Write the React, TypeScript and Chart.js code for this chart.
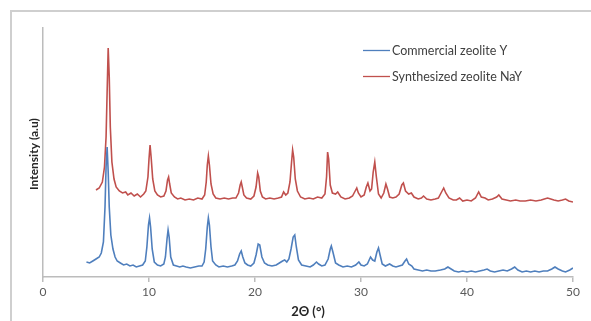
import React, { useEffect, useRef } from "react";
import { Chart, registerables } from "chart.js";

Chart.register(...registerables);

const seriesLabels = ["Commercial zeolite Y", "Synthesized zeolite NaY"];
const seriesColors = ["#4f7fbd", "#c0504d"];
const xTitle = "2Θ (°)";
const yTitle = "Intensity (a.u)";
const xTickValues = [0, 10, 20, 30, 40, 50];

const blueTheta = [
  4.1, 4.4, 4.7, 5.0, 5.3, 5.5, 5.7, 5.85, 5.95, 6.05, 6.15, 6.25, 6.4, 6.6, 6.8, 7.0, 7.3, 7.6, 7.9, 8.2,
  8.5, 8.8, 9.1, 9.4, 9.65, 9.8, 9.95, 10.05, 10.15, 10.3, 10.5, 10.8, 11.1, 11.4, 11.55, 11.7, 11.8, 11.9, 12.05, 12.3,
  12.6, 12.9, 13.2, 13.5, 13.9, 14.3, 14.7, 15.0, 15.2, 15.35, 15.5, 15.6, 15.7, 15.85, 16.0, 16.3, 16.6, 17.0, 17.4, 17.8,
  18.1, 18.35, 18.55, 18.7, 18.85, 19.05, 19.3, 19.6, 19.9, 20.1, 20.3, 20.45, 20.65, 20.9, 21.2, 21.6, 22.0, 22.3, 22.6, 22.8,
  23.0, 23.2, 23.4, 23.6, 23.75, 23.9, 24.1, 24.4, 24.8, 25.2, 25.5, 25.8, 26.0, 26.3, 26.6, 26.9, 27.1, 27.2, 27.35, 27.6,
  27.9, 28.3, 28.7, 29.1, 29.5, 29.8, 30.0, 30.3, 30.6, 30.9, 31.1, 31.3, 31.5, 31.65, 31.8, 32.0, 32.3, 32.7, 33.0, 33.3,
  33.6, 33.9, 34.15, 34.3, 34.5, 34.8, 35.0, 35.4, 35.8, 36.2, 36.6, 37.0, 37.5, 37.9, 38.2, 38.5, 38.8, 39.2, 39.6, 40.0,
  40.4, 40.8, 41.2, 41.6, 41.9, 42.2, 42.6, 43.0, 43.4, 43.8, 44.2, 44.5, 44.8, 45.2, 45.6, 46.0, 46.4, 46.8, 47.2, 47.6,
  48.0, 48.3, 48.6, 49.0, 49.3, 49.7, 50.0,
];
const blueIntensity = [
  15, 14, 16, 18, 20, 24, 35, 70, 110, 130, 105, 70, 42, 28, 20, 16, 14, 12, 13, 11,
  12, 10, 11, 12, 16, 30, 52, 59, 50, 28, 15, 12, 11, 13, 20, 38, 47, 40, 20, 12,
  11, 10, 11, 10, 9, 10, 11, 11, 15, 28, 50, 59, 52, 30, 16, 12, 10, 11, 10, 11,
  12, 16, 23, 26, 20, 14, 12, 11, 14, 22, 33, 32, 20, 14, 12, 11, 12, 14, 16, 17,
  15, 18, 28, 40, 42, 30, 17, 12, 11, 10, 12, 15, 13, 11, 12, 18, 28, 31, 25, 14,
  12, 10, 11, 10, 12, 15, 12, 11, 13, 20, 17, 16, 25, 29, 22, 13, 11, 13, 11, 10,
  11, 12, 16, 18, 13, 11, 8, 7, 6, 7, 6, 6, 7, 8, 10, 8, 6, 5, 6, 5,
  6, 5, 6, 7, 8, 6, 5, 6, 7, 6, 8, 10, 7, 5, 6, 5, 6, 5, 6, 6,
  8, 10, 8, 6, 5, 7, 9,
];

const redTheta = [
  5.0, 5.3, 5.6, 5.8, 5.95, 6.05, 6.15, 6.25, 6.35, 6.5, 6.7, 6.9, 7.2, 7.5, 7.8, 8.0, 8.3, 8.6, 8.9, 9.2,
  9.5, 9.7, 9.9, 10.0, 10.1, 10.2, 10.35, 10.55, 10.8, 11.1, 11.4, 11.6, 11.75, 11.85, 11.95, 12.1, 12.4, 12.7, 13.0, 13.4,
  13.8, 14.2, 14.6, 15.0, 15.25, 15.4, 15.5, 15.6, 15.7, 15.85, 16.05, 16.3, 16.7, 17.1, 17.5, 17.9, 18.2, 18.45, 18.6, 18.7,
  18.8, 18.95, 19.2, 19.6, 19.9, 20.1, 20.25, 20.35, 20.5, 20.7, 21.0, 21.4, 21.8, 22.2, 22.5, 22.7, 22.9, 23.1, 23.3, 23.45,
  23.55, 23.65, 23.8, 24.0, 24.3, 24.7, 25.1, 25.5, 25.9, 26.3, 26.6, 26.75, 26.85, 26.95, 27.1, 27.3, 27.6, 27.8, 28.1, 28.5,
  28.9, 29.2, 29.45, 29.6, 29.75, 30.0, 30.3, 30.5, 30.65, 30.85, 31.0, 31.15, 31.3, 31.45, 31.65, 31.9, 32.15, 32.35, 32.5, 32.7,
  33.0, 33.3, 33.6, 33.85, 34.0, 34.2, 34.5, 34.75, 35.0, 35.4, 35.7, 35.9, 36.2, 36.6, 37.0, 37.3, 37.6, 37.8, 38.0, 38.3,
  38.7, 39.0, 39.3, 39.6, 40.0, 40.4, 40.8, 41.1, 41.35, 41.7, 42.0, 42.4, 42.8, 43.0, 43.3, 43.7, 44.1, 44.6, 45.0, 45.5,
  46.0, 46.5, 47.0, 47.3, 47.6, 47.9, 48.2, 48.6, 49.0, 49.3, 49.6, 50.0,
];
const redIntensity = [
  87, 89, 95, 110, 140, 185, 229, 200, 150, 115, 98, 90, 86, 84, 85, 82, 84, 81, 83, 80,
  83, 86, 100, 118, 132, 120, 98, 86, 82, 80, 81, 86, 97, 100, 93, 84, 80, 78, 79, 77,
  78, 77, 79, 78, 82, 95, 112, 121, 112, 93, 83, 79, 78, 79, 78, 79, 79, 84, 92, 95,
  90, 82, 79, 78, 81, 90, 104, 100, 86, 80, 78, 79, 78, 79, 80, 85, 82, 84, 95, 115,
  127, 120, 98, 86, 80, 78, 79, 78, 80, 79, 83, 100, 125, 118, 92, 84, 83, 85, 80, 78,
  79, 81, 86, 89, 84, 80, 82, 90, 94, 86, 88, 105, 115, 100, 83, 79, 84, 93, 88, 80,
  79, 80, 83, 92, 94, 86, 83, 84, 80, 78, 79, 81, 78, 77, 78, 79, 85, 89, 84, 79,
  77, 77, 79, 76, 77, 76, 79, 85, 80, 79, 77, 78, 80, 82, 78, 77, 76, 77, 76, 76,
  77, 76, 77, 78, 79, 78, 77, 76, 77, 78, 76, 75,
];

const toPoints = (xs: number[], ys: number[]) => xs.map((x, i) => ({ x, y: ys[i] }));

const overlayPlugin = {
  id: "overlay",
  beforeDraw(chart: any) {
    const ctx = chart.ctx;
    ctx.save();
    ctx.fillStyle = "#ffffff";
    ctx.fillRect(0, 0, chart.width, chart.height);
    ctx.strokeStyle = "#cfcfcf";
    ctx.lineWidth = 2;
    ctx.strokeRect(11, 11, 700, 500);
    ctx.restore();
  },
  afterDraw(chart: any) {
    const ctx = chart.ctx;
    ctx.save();
    ctx.translate(34, 154);
    ctx.rotate(-Math.PI / 2);
    ctx.font = "bold 12px Lato";
    ctx.fillStyle = "#262626";
    ctx.textAlign = "center";
    ctx.textBaseline = "middle";
    ctx.fillText(yTitle, 0, 0);
    ctx.restore();

    ctx.save();
    ctx.font = "bold 13px Lato";
    ctx.fillStyle = "#262626";
    ctx.textAlign = "center";
    ctx.textBaseline = "middle";
    ctx.fillText(xTitle, 308, 312);
    ctx.restore();

    ctx.save();
    const rows = [50.5, 76.5];
    chart.data.datasets.forEach((ds: any, i: number) => {
      ctx.strokeStyle = ds.borderColor;
      ctx.lineWidth = 1.3;
      ctx.beginPath();
      ctx.moveTo(363, rows[i]);
      ctx.lineTo(390, rows[i]);
      ctx.stroke();
      ctx.font = "12.5px Lato";
      ctx.fillStyle = "#404040";
      ctx.textAlign = "left";
      ctx.textBaseline = "middle";
      ctx.fillText(ds.label, 392, rows[i]);
    });
    ctx.restore();
  },
};

export default function App() {
  const canvasRef = useRef<HTMLCanvasElement | null>(null);

  useEffect(() => {
    const canvas = canvasRef.current;
    if (!canvas) return;
    const chart = new Chart(canvas, {
      type: "line",
      data: {
        datasets: [
          {
            label: seriesLabels[0],
            data: toPoints(blueTheta, blueIntensity),
            borderColor: seriesColors[0],
            borderWidth: 1.6,
            pointRadius: 0,
            tension: 0,
            fill: false,
          },
          {
            label: seriesLabels[1],
            data: toPoints(redTheta, redIntensity),
            borderColor: seriesColors[1],
            borderWidth: 1.6,
            pointRadius: 0,
            tension: 0,
            fill: false,
          },
        ],
      },
      options: {
        responsive: false,
        animation: false,
        events: [],
        layout: { padding: { top: 28, right: 18, left: 0, bottom: 0 } },
        plugins: {
          legend: { display: false },
          tooltip: { enabled: false },
          title: { display: false },
        },
        scales: {
          x: {
            type: "linear",
            min: 0,
            max: 50,
            afterBuildTicks: (scale: any) => {
              scale.ticks = xTickValues.map((v) => ({ value: v }));
            },
            afterFit: (scale: any) => {
              scale.height = 44;
            },
            ticks: {
              color: "#595959",
              font: { family: "Lato", size: 12 },
              padding: 3,
              maxRotation: 0,
            },
            grid: {
              display: true,
              drawOnChartArea: false,
              drawTicks: true,
              tickLength: 5,
              color: "#bcbcbc",
              lineWidth: 1.5,
            },
            border: { display: true, color: "#bcbcbc", width: 1.5 },
          },
          y: {
            type: "linear",
            min: 0,
            max: 249,
            afterFit: (scale: any) => {
              scale.width = 43;
            },
            ticks: { display: false },
            grid: { display: false, drawTicks: false },
            border: { display: true, color: "#bcbcbc", width: 1.5 },
          },
        },
      },
      plugins: [overlayPlugin],
    });
    return () => chart.destroy();
  }, []);

  return (
    <div style={{ position: "absolute", left: 0, top: 0, width: 591, height: 321 }}>
      <canvas ref={canvasRef} width={591} height={321} style={{ display: "block", width: 591, height: 321 }} />
    </div>
  );
}
